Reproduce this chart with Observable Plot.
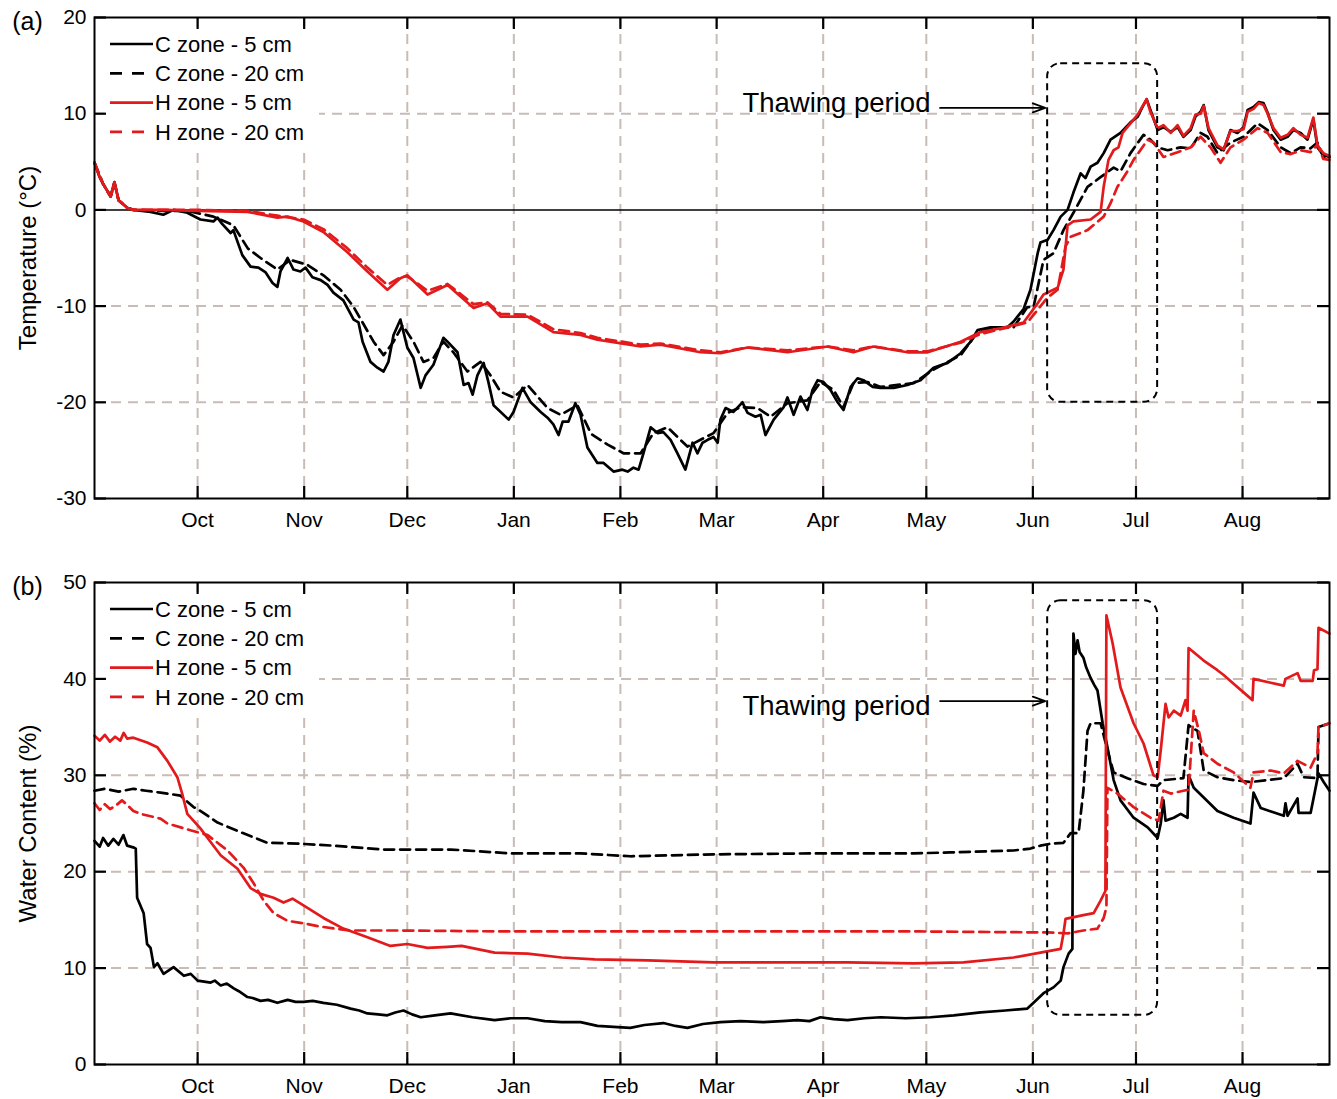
<!DOCTYPE html>
<html><head><meta charset="utf-8">
<script src="https://cdn.jsdelivr.net/npm/d3@7"></script>
<script src="https://cdn.jsdelivr.net/npm/@observablehq/plot@0.6"></script>
<style>
body{margin:0;background:#fff;font-family:"Liberation Sans",Arial,sans-serif;}
.panel{position:relative;width:1337px;}
</style></head><body>
<div id="pa" class="panel"></div>
<div id="pb" class="panel"></div>
<script>
// ---------- data (day = days since 2016-09-01, value) ----------
const startDate = "2016-09-01";
const endDay = 359.3;
const monthLabels = ["Oct","Nov","Dec","Jan","Feb","Mar","Apr","May","Jun","Jul","Aug"];
const monthTickDates = ["2016-10-01","2016-11-01","2016-12-01","2017-01-01","2017-02-01","2017-03-01","2017-04-01","2017-05-01","2017-06-01","2017-07-01","2017-08-01"];
const tempTicks = [20,10,0,-10,-20,-30];
const tempGrid = [10,-10,-20];
const waterTicks = [50,40,30,20,10,0];
const waterGrid = [10,20,30,40];
const legendLabels = ["C zone - 5 cm","C zone - 20 cm","H zone - 5 cm","H zone - 20 cm"];

const tempC5 = [[0,4.9],[1.5,3.4],[2.5,2.7],[4.7,1.4],[5.8,2.9],[7,1.0],[9.6,0.2],[11.3,0.0],[16.3,-0.2],[20,-0.5],[23,0.0],[27,-0.3],[30.8,-1.0],[34.6,-1.2],[35.8,-0.8],[37,-1.4],[39.6,-2.4],[40.4,-2.1],[43,-4.7],[45.4,-5.9],[47.7,-6.0],[49.8,-6.5],[51.8,-7.6],[53.2,-8.0],[54.1,-6.4],[56.2,-5.0],[57.9,-6.2],[59.9,-6.4],[61.4,-6.0],[63.4,-7.0],[65.8,-7.3],[67.8,-7.8],[69.5,-8.6],[72.4,-9.4],[75.4,-11.4],[76.8,-11.7],[78,-13.7],[80.3,-15.8],[82.3,-16.4],[84.1,-16.8],[85.5,-15.8],[87,-13.0],[89,-11.4],[91,-14.3],[92.8,-15.4],[94.9,-18.5],[96.3,-17.2],[98.6,-16.1],[101.5,-13.3],[102.7,-13.7],[105.6,-14.8],[107.4,-18.2],[108.8,-18.0],[110,-19.2],[111.4,-17.2],[113.2,-15.9],[114.6,-17.9],[116.1,-20.3],[120.5,-21.8],[121.9,-21.0],[124.5,-18.5],[126.9,-20.0],[129.8,-21.0],[131.8,-21.6],[133.5,-22.3],[135,-23.4],[136.2,-22.0],[137.9,-22.0],[139.9,-20.1],[141.4,-21.3],[143.4,-24.7],[146.3,-26.3],[148.1,-26.3],[151,-27.2],[153.6,-27.0],[155.1,-27.2],[156.8,-26.8],[158.3,-27.0],[159.7,-25.3],[161.8,-22.6],[163.8,-23.2],[165.5,-23.1],[167.6,-23.9],[169.6,-25.3],[171.9,-27.0],[174,-24.2],[175.4,-25.3],[176.9,-24.2],[178.4,-23.9],[180.1,-23.6],[181.3,-24.2],[182.1,-21.8],[183.6,-20.6],[185.9,-21.0],[188.5,-20.0],[190,-21.1],[192.3,-21.5],[193.8,-21.3],[195.2,-23.4],[197.6,-21.8],[200.5,-20.5],[201.6,-19.5],[203.4,-21.3],[205.4,-19.4],[207.4,-20.8],[208.9,-18.7],[210.4,-17.7],[212.1,-17.9],[214.1,-18.7],[216.2,-20.0],[217.9,-20.8],[220,-18.4],[222,-17.5],[223.7,-17.7],[226.4,-18.4],[228.7,-18.5],[232.5,-18.5],[236.5,-18.2],[240.3,-17.7],[244.1,-16.4],[248.2,-15.9],[252,-14.9],[254.9,-13.7],[256.9,-12.5],[260.7,-12.2],[265.6,-12.2],[267.4,-11.6],[270.3,-10.3],[272.3,-8.3],[274.4,-4.5],[275.2,-3.4],[277.3,-3.1],[279,-2.1],[281.1,-0.7],[283.1,0.0],[284.8,1.8],[286.9,3.8],[288.3,3.3],[289.8,4.5],[291.8,4.9],[293.6,5.9],[295.6,7.3],[298.5,8.0],[301.4,9.1],[303.5,9.7],[304.9,10.7],[306.1,11.5],[307.2,10.4],[309.3,8.3],[311,8.6],[313.1,8.1],[315.1,8.6],[316.8,7.6],[318.9,8.3],[320.3,9.7],[321.8,10.2],[322.7,10.9],[324.1,8.3],[326.7,6.5],[328.5,6.2],[330.5,8.3],[332.5,8.0],[334.3,8.6],[335.5,10.4],[337.2,10.7],[338.7,11.2],[340.1,11.1],[341.3,10.1],[343,8.3],[345.1,7.3],[347.1,7.6],[348.8,8.3],[350.9,8.0],[352.9,7.3],[354.6,9.4],[355.8,6.5],[357.5,5.7],[359.3,5.5]];

const tempC20 = [[0,4.9],[2.5,2.7],[4.7,1.4],[5.8,2.8],[7,1.0],[9.6,0.2],[11.3,0.0],[20,-0.1],[27,-0.1],[30.8,-0.4],[34.6,-0.7],[40.4,-1.6],[44.6,-4.0],[48.3,-5.0],[53.2,-6.2],[57,-5.2],[61.9,-5.7],[66.6,-6.8],[71.6,-8.3],[75.4,-10.1],[81.2,-13.7],[84.1,-15.1],[87,-13.7],[89.6,-12.0],[92.8,-13.7],[95.7,-15.8],[98.6,-15.4],[101.5,-13.7],[104.4,-14.8],[108.5,-16.8],[112.3,-15.8],[115.2,-17.2],[118.1,-18.9],[121.9,-19.5],[126,-18.2],[131.8,-20.6],[135.6,-21.3],[140.5,-20.3],[144.5,-23.3],[149.3,-24.4],[153.9,-25.3],[158.9,-25.3],[162.6,-23.2],[166.7,-22.6],[169.6,-23.6],[172.5,-24.6],[176.3,-23.9],[180.1,-23.2],[184.2,-21.1],[188,-20.5],[192.9,-20.6],[196.7,-21.5],[201.6,-20.1],[207.4,-19.8],[211.2,-17.9],[215,-18.7],[217.9,-20.5],[220.8,-18.0],[224.9,-17.9],[228.7,-18.4],[238.3,-18.0],[244.1,-16.6],[252,-15.1],[256.9,-12.7],[261.6,-12.3],[267.4,-12.2],[271.4,-10.1],[273.2,-10.1],[276.1,-5.2],[279,-4.5],[281.9,-2.1],[284.8,-0.3],[288.9,2.4],[292.7,3.4],[296.5,4.4],[298.5,4.0],[301.4,5.9],[305.2,7.8],[307.2,7.3],[309.3,6.5],[312.2,6.2],[316,6.5],[318.9,6.4],[321.8,8.0],[323.8,7.6],[326.7,5.9],[330.5,7.0],[334.3,7.6],[338.4,9.0],[341.3,8.3],[345.1,6.5],[348,5.9],[350.9,6.5],[353.8,6.4],[355.8,7.0],[357.5,5.5],[359.3,5.3]];

const tempH5 = [[0,4.9],[1.5,3.4],[2.5,2.7],[4.7,1.4],[5.8,2.9],[7,1.0],[9.6,0.2],[11.3,0.0],[20,0.0],[30,-0.1],[44.5,-0.2],[53.2,-0.8],[56.2,-0.7],[60.8,-1.2],[66.6,-2.3],[73.6,-4.4],[79.4,-6.4],[85.2,-8.3],[89,-7.1],[91,-6.8],[96.9,-8.8],[102.7,-7.8],[110.3,-10.2],[114.3,-9.7],[118.1,-11.1],[126,-11.1],[133.5,-12.7],[141.4,-13.0],[146.3,-13.5],[150,-13.7],[158.9,-14.2],[164.7,-14.0],[176.3,-14.8],[182.1,-14.9],[190,-14.3],[201.6,-14.8],[213.3,-14.2],[220.8,-14.8],[226.6,-14.2],[236.5,-14.8],[242.4,-14.8],[252,-13.7],[257.8,-12.7],[263.6,-12.3],[270.3,-11.7],[274.4,-9.7],[276.1,-8.8],[280.2,-8.1],[281.9,-6.2],[283.1,-1.6],[284.8,-1.2],[289.8,-1.0],[292.7,-0.2],[293.6,2.4],[295,5.2],[296.5,6.2],[297.9,6.5],[299.1,8.0],[301.4,9.0],[303.5,9.9],[306.1,11.5],[307.2,10.2],[309.3,8.5],[311,8.8],[313.1,8.0],[315.1,8.8],[316.8,7.7],[318.9,8.5],[320.3,9.9],[321.8,10.0],[322.7,10.8],[324.1,8.5],[326.7,6.7],[328.5,6.3],[330.5,8.2],[332.5,8.2],[334.3,8.4],[335.5,10.2],[337.2,10.5],[338.7,11.1],[340.1,10.9],[341.3,10.0],[343,8.5],[345.1,7.5],[347.1,7.8],[348.8,8.5],[350.9,7.8],[352.9,7.5],[354.6,9.6],[355.8,6.7],[357.5,5.9],[359.3,5.6]];

const tempH20 = [[0,4.9],[2.5,2.7],[4.7,1.4],[5.8,2.8],[7,1.0],[9.6,0.2],[11.3,0.0],[30,0.0],[44.5,-0.1],[53.2,-0.6],[60.8,-1.0],[66.6,-2.0],[73.6,-4.0],[79.4,-6.0],[85.2,-7.8],[89,-7.0],[91,-6.9],[96.9,-8.4],[102.7,-7.7],[110.3,-9.8],[114.3,-9.6],[118.1,-10.8],[126,-10.9],[133.5,-12.4],[141.4,-12.8],[146.3,-13.3],[158.9,-14.0],[164.7,-13.9],[176.3,-14.6],[182.1,-14.8],[190,-14.3],[201.6,-14.6],[213.3,-14.2],[220.8,-14.6],[226.6,-14.2],[236.5,-14.7],[242.4,-14.7],[252,-13.8],[257.8,-12.9],[263.6,-12.4],[271.4,-11.7],[277.3,-9.1],[280.2,-8.3],[282.5,-3.8],[284,-2.8],[288.9,-2.1],[293.6,-0.7],[295.6,0.7],[297.6,2.4],[300.5,4.0],[302.3,5.2],[306.4,7.3],[308.1,7.0],[311,5.5],[315.1,6.0],[318.9,6.5],[321.8,7.6],[324.7,6.5],[327.6,4.9],[330.5,6.5],[334.3,7.3],[338.4,8.5],[341.3,8.0],[345.1,6.0],[348,5.8],[350.9,6.2],[353.8,6.0],[355.8,6.8],[357.5,5.3],[359.3,5.2]];

const waterC5 = [[0,23.2],[1.5,22.6],[2.5,23.5],[4,22.7],[5.5,23.4],[7,22.8],[8.4,23.8],[9.5,22.7],[11.5,22.5],[12,22.4],[12.4,17.3],[14.3,15.7],[15.3,12.5],[16.3,12.1],[17.3,10.1],[18.3,10.5],[20.1,9.4],[23,10.1],[26,9.2],[28,9.4],[30,8.7],[33.8,8.5],[35,8.7],[36.7,8.2],[38.5,8.4],[40.5,7.9],[42,7.6],[44.5,7.0],[46,6.9],[48.3,6.6],[50.5,6.7],[53.2,6.4],[56.2,6.7],[58.5,6.5],[60.8,6.5],[63.5,6.6],[66.6,6.4],[70.5,6.2],[74.5,5.8],[77,5.6],[79.4,5.3],[82.5,5.2],[85.2,5.1],[87.5,5.4],[89.9,5.6],[92.4,5.2],[94.9,4.9],[99,5.1],[103.6,5.3],[110,4.9],[116.4,4.6],[121,4.8],[126,4.8],[131,4.5],[135.9,4.4],[141.4,4.4],[146.3,4.0],[151,3.9],[155.9,3.8],[160,4.1],[165.5,4.3],[169,4.0],[172.5,3.8],[177,4.2],[182.1,4.4],[188,4.5],[194.6,4.4],[200,4.5],[204.5,4.6],[208,4.5],[211.2,4.9],[215,4.7],[219.1,4.6],[224,4.8],[228.7,4.9],[236,4.8],[243.2,4.9],[250,5.1],[257.8,5.4],[265,5.6],[271.4,5.8],[273.2,6.4],[276.1,7.4],[279,8.0],[281.1,8.7],[281.9,10.1],[283.4,11.5],[284.5,12.0],[284.8,44.7],[285.4,42.6],[286,44.0],[286.6,42.8],[287.7,42.2],[288.5,41.2],[289.8,40.1],[290.8,39.4],[291.8,38.8],[293.3,35.4],[294.7,32.9],[296.5,29.5],[298.5,27.4],[302.3,25.6],[306.4,24.6],[309.3,23.5],[310.2,25.0],[311,27.4],[311.6,25.3],[314,25.6],[316,26.0],[318,25.6],[318.3,30.0],[319.8,28.7],[322.7,27.7],[326.7,26.3],[331.4,25.6],[336.3,25.0],[337.2,28.2],[339.3,26.6],[346,25.8],[346.5,27.1],[347.1,25.8],[350,27.6],[350.3,26.1],[353.8,26.1],[356.1,30.2],[357.6,29.3],[359.3,28.4]];

const waterC20 = [[0,28.4],[3,28.6],[7,28.3],[11.3,28.6],[15,28.4],[19.2,28.2],[25,27.9],[28.8,26.7],[30,26.5],[35.8,25.1],[42.5,24.1],[50.3,23.0],[59.9,22.9],[69.5,22.7],[84.1,22.3],[103.6,22.3],[121.3,21.9],[141.4,21.9],[155.9,21.6],[180.1,21.8],[209.2,21.9],[238.3,21.9],[249,22.0],[267.4,22.2],[272.3,22.4],[275.2,22.7],[278.1,22.9],[281.9,23.0],[284,24.0],[286.3,24.0],[287.7,28.4],[288.9,34.6],[289.8,35.4],[292.7,35.4],[294.7,32.6],[296.5,30.3],[300.5,29.7],[305.2,29.1],[309.3,28.9],[311,29.5],[316.8,29.7],[318.3,35.2],[320.9,34.6],[322.7,30.5],[326.7,29.8],[331.4,29.5],[336.3,29.3],[346,29.7],[350,31.2],[351.8,29.8],[355.8,29.7],[356.1,35.0],[359.3,35.4]];

const waterH5 = [[0,34.1],[1.5,33.6],[3,34.2],[4.5,33.5],[6,34.0],[7.5,33.6],[8.5,34.4],[9.5,33.8],[11.3,33.9],[15.3,33.4],[18.3,32.9],[21.2,31.5],[24.1,29.8],[25.5,28.1],[27,26.0],[30.8,24.5],[32.9,23.5],[36.7,21.7],[41.6,20.3],[45.4,18.3],[48.3,17.7],[52.1,17.3],[55,16.8],[57.6,17.2],[60.8,16.5],[66.6,15.2],[72.4,14.1],[79.4,13.2],[86.1,12.3],[91,12.5],[96.9,12.1],[102.7,12.2],[106.8,12.3],[116.4,11.6],[126,11.5],[135.9,11.1],[145.5,10.9],[160.9,10.8],[180.1,10.6],[199.6,10.6],[219.1,10.6],[238.3,10.5],[252.8,10.6],[267.4,11.1],[275.2,11.6],[281.1,12.0],[281.9,13.6],[282.5,15.1],[287.7,15.5],[290.7,15.7],[292.7,17.0],[294.1,18.0],[294.4,46.6],[296.2,43.7],[298.5,39.1],[302.3,35.4],[305.2,33.3],[308.1,30.0],[309.3,29.8],[310.2,32.6],[311.6,37.4],[312.5,36.0],[314,36.7],[316,36.2],[317.4,37.8],[318,36.7],[318.3,43.2],[322.7,41.9],[326.7,40.9],[328.5,40.4],[331.4,39.5],[336.9,37.8],[337.2,40.0],[342.2,39.6],[346,39.3],[346.5,40.0],[350,40.6],[350.9,39.8],[354.4,39.8],[354.8,40.9],[355.8,41.0],[356.1,45.3],[359.3,44.7]];

const waterH20 = [[0,27.1],[1.5,26.4],[3,27.0],[4.5,26.5],[6,26.8],[8,27.4],[9.6,26.9],[11.3,26.3],[13.4,26.0],[19.2,25.5],[21.2,25.0],[27.9,24.3],[32.9,23.8],[38.7,22.2],[43.4,20.4],[46.3,18.8],[49.2,17.0],[52.1,15.7],[56.2,14.9],[59.9,14.7],[65.8,14.3],[74.5,13.9],[89,13.9],[120,13.8],[160,13.8],[200,13.8],[240,13.8],[277.3,13.7],[283.1,13.6],[287.7,13.9],[291.8,14.1],[293.6,15.2],[294.4,16.3],[294.7,28.7],[297.6,28.1],[302.3,26.7],[307.2,25.6],[309.6,25.3],[311,28.4],[313.1,28.1],[316.8,28.4],[318.3,28.5],[319.8,36.7],[321.3,34.6],[322.7,32.3],[326.7,31.2],[331.4,30.3],[336.3,28.7],[337.2,30.3],[342.2,30.5],[346,30.2],[350,31.5],[353.8,30.8],[355.8,32.3],[356.1,35.0],[359.3,35.4]];

// thawing-period annotation (days, values)
const thawDays = [277.3, 309.3];
const thawTemp = [-20, 15.2];
const thawWater = [5.1, 48.1];
const arrowDays = [246, 276.6];
const arrowTemp = 10.6, arrowWater = 37.7;
const labelDay = 243.2, labelTemp = 11.1, labelWater = 37.2;

// ---------- helpers ----------
const t0 = +new Date(startDate);
const toDate = d => new Date(t0 + d * 864e5);
const xTicks = monthTickDates.map(s => new Date(s));
const labelByTime = new Map(xTicks.map((d, i) => [+d, monthLabels[i]]));
const rows = arr => arr.map(([d, v]) => ({date: toDate(d), value: v}));

const RED = "#e31a1c";
const GRID = "#c8bcb6";
const seriesStyle = [
  {stroke: "black", dash: null},
  {stroke: "black", dash: "10,6"},
  {stroke: RED, dash: null},
  {stroke: RED, dash: "10,6"}
];

function makePanel({el, data, yDomain, yTicks, gridY, yLabel, tag, height, marginBottom, zero, boxY, arrowY, labelY}) {
  const W = 1337, mL = 94, mR = 8, mT = 17;
  const frameH = height - mT - marginBottom, frameW = W - mL - mR;
  const tick = 12;
  const marks = [
    Plot.gridX(xTicks, {stroke: GRID, strokeOpacity: 1, strokeWidth: 2, strokeDasharray: "10,7"}),
    Plot.gridY(gridY, {stroke: GRID, strokeOpacity: 1, strokeWidth: 2, strokeDasharray: "10,7"})
  ];
  if (zero) marks.push(Plot.ruleY([0], {stroke: "black", strokeWidth: 1.5}));
  const order = [1, 0, 3, 2];
  for (const i of order) {
    marks.push(Plot.line(rows(data[i]), {x: "date", y: "value", stroke: seriesStyle[i].stroke, strokeWidth: 2.7,
      strokeDasharray: seriesStyle[i].dash, strokeLinejoin: "round"}));
  }
  marks.push(
    Plot.rect([{x1: toDate(thawDays[0]), x2: toDate(thawDays[1]), y1: boxY[0], y2: boxY[1]}],
      {x1: "x1", x2: "x2", y1: "y1", y2: "y2", rx: 13, fill: "none", stroke: "black", strokeWidth: 2, strokeDasharray: "7,5"}),
    Plot.arrow([{x1: toDate(arrowDays[0]), x2: toDate(arrowDays[1]), y: arrowY}],
      {x1: "x1", x2: "x2", y1: "y", y2: "y", stroke: "black", strokeWidth: 1.8, headLength: 11, headAngle: 40}),
    Plot.text([{x: toDate(labelDay), y: labelY, t: "Thawing period"}],
      {x: "x", y: "y", text: "t", textAnchor: "end", fontSize: 27.5, fill: "black"}),
    Plot.frame({stroke: "black", strokeWidth: 2}),
    Plot.tickX(xTicks, {x: d => d, insetTop: frameH - tick, strokeWidth: 2.2, stroke: "black"}),
    Plot.tickX(xTicks, {x: d => d, insetBottom: frameH - tick, strokeWidth: 2.2, stroke: "black"}),
    Plot.tickY(yTicks, {y: d => d, insetRight: frameW - tick, strokeWidth: 2.2, stroke: "black"}),
    Plot.tickY(yTicks, {y: d => d, insetLeft: frameW - tick, strokeWidth: 2.2, stroke: "black"}),
    Plot.axisX(xTicks, {tickSize: 0, tickPadding: 14, tickFormat: d => labelByTime.get(+d), label: null}),
    Plot.axisY(yTicks, {tickSize: 0, tickPadding: 8, tickFormat: d => String(d), label: null}),
    Plot.text([yLabel], {frameAnchor: "left", dx: -66, rotate: -90, text: d => d, fontSize: 24, textAnchor: "middle", lineAnchor: "middle", fill: "black"}),
    Plot.text([tag], {frameAnchor: "top-left", dx: -67, dy: 4, text: d => d, fontSize: 25, textAnchor: "middle", lineAnchor: "middle", fill: "black"})
  );
  const svg = Plot.plot({
    width: W, height, marginLeft: mL, marginRight: mR, marginTop: mT, marginBottom,
    x: {type: "utc", domain: [toDate(0), toDate(endDay)]},
    y: {domain: yDomain},
    style: {fontFamily: "'Liberation Sans', Arial, sans-serif", fontSize: "21px", color: "black", background: "white", overflow: "visible"},
    marks
  });
  const host = document.getElementById(el);
  host.appendChild(svg);
  // legend box (drawn over grid, left of ticks)
  const lg = d3.select(host).append("svg").attr("width", 212).attr("height", 120)
    .style("position", "absolute").style("left", "107px").style("top", (mT + 13) + "px");
  lg.append("rect").attr("width", 212).attr("height", 120).attr("fill", "white");
  legendLabels.forEach((lab, i) => {
    const y = 14 + 29.3 * i;
    const st = seriesStyle[i];
    lg.append("line").attr("x1", 3).attr("x2", st.dash ? 37 : 46).attr("y1", y).attr("y2", y)
      .attr("stroke", st.stroke).attr("stroke-width", 2.7)
      .attr("stroke-dasharray", st.dash ? "12,10" : null);
    lg.append("text").attr("x", 48).attr("y", y).attr("dy", "0.35em")
      .attr("font-size", 22).attr("font-family", "'Liberation Sans', Arial, sans-serif").text(lab);
  });
}

makePanel({el: "pa", data: [tempC5, tempC20, tempH5, tempH20], yDomain: [-30, 20], yTicks: tempTicks, gridY: tempGrid,
  yLabel: "Temperature (°C)", tag: "(a)", height: 565, marginBottom: 67, zero: true,
  boxY: thawTemp, arrowY: arrowTemp, labelY: labelTemp});
makePanel({el: "pb", data: [waterC5, waterC20, waterH5, waterH20], yDomain: [0, 50], yTicks: waterTicks, gridY: waterGrid,
  yLabel: "Water Content (%)", tag: "(b)", height: 534, marginBottom: 35, zero: false,
  boxY: thawWater, arrowY: arrowWater, labelY: labelWater});
</script>
</body></html>
